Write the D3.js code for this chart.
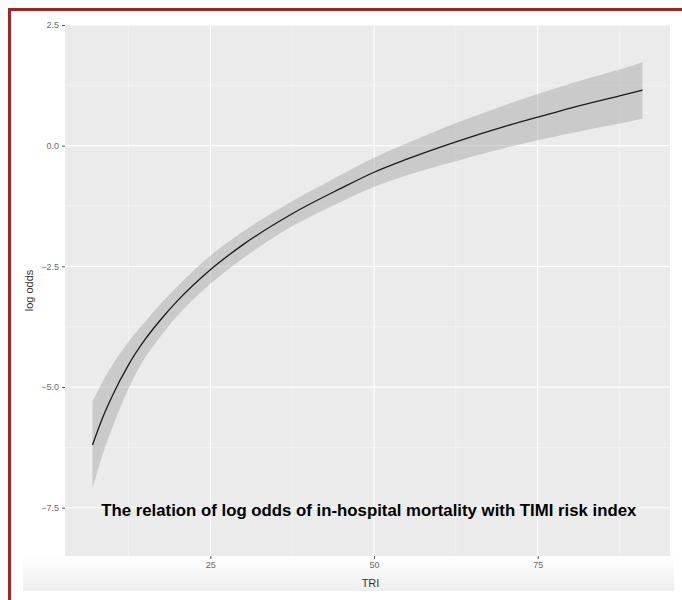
<!DOCTYPE html>
<html>
<head>
<meta charset="utf-8">
<script src="https://cdn.jsdelivr.net/npm/d3@7"></script>
<style>
  body { margin: 0; background: #fff; }
  svg { display: block; font-family: "Liberation Sans", Arial, sans-serif; }
</style>
</head>
<body>
<div id="chart"></div>
<script>
// TRI values (x)
const tri = [7, 8.5, 10, 12.5, 15, 17.5, 20, 25, 30, 37.5, 45, 50, 55, 62.5, 70, 75, 80, 87.5, 91];
// fitted log odds
const logOdds = [-6.20, -5.65, -5.19, -4.54, -4.02, -3.59, -3.21, -2.57, -2.05, -1.41, -0.88, -0.55, -0.28, 0.08, 0.40, 0.59, 0.78, 1.03, 1.15];
// confidence band
const lower = [-7.10, -6.42, -5.85, -5.03, -4.40, -3.93, -3.52, -2.86, -2.33, -1.67, -1.16, -0.85, -0.61, -0.32, -0.05, 0.11, 0.26, 0.46, 0.56];
const upper = [-5.30, -4.90, -4.55, -4.06, -3.65, -3.26, -2.91, -2.28, -1.78, -1.15, -0.60, -0.25, 0.05, 0.47, 0.84, 1.07, 1.29, 1.58, 1.73];

const xTicks = [25, 50, 75];
const xMinor = [12.5, 37.5, 62.5, 87.5];
const yTicks = [-7.5, -5.0, -2.5, 0.0, 2.5];
const yMinor = [-6.25, -3.75, -1.25, 1.25];

const titleText = "The relation of log odds of in-hospital mortality with TIMI risk index";
const titlePos = { x: 49.2, y: -7.55 };

const W = 682, H = 600;
const panel = { left: 65, right: 670, top: 25, bottom: 556 };

const svg = d3.select("#chart").append("svg")
  .attr("width", W).attr("height", H);

const defs = svg.append("defs");
const grad = defs.append("linearGradient").attr("id", "strip")
  .attr("x1", 0).attr("y1", 0).attr("x2", 0).attr("y2", 1);
grad.append("stop").attr("offset", "0%").attr("stop-color", "#fefefe");
grad.append("stop").attr("offset", "100%").attr("stop-color", "#efefef");

// red frame (left + top visible)
svg.append("line").attr("x1", 9.5).attr("y1", 9.5).attr("x2", 682).attr("y2", 9.5)
  .attr("stroke", "#a3232a").attr("stroke-width", 3);
svg.append("line").attr("x1", 9.5).attr("y1", 8).attr("x2", 9.5).attr("y2", 600)
  .attr("stroke", "#a3232a").attr("stroke-width", 3);

// faint strip below the panel
svg.append("rect").attr("x", 23).attr("y", panel.bottom).attr("width", 651).attr("height", 35)
  .attr("fill", "url(#strip)");

// scales (ggplot style 5% expansion on x)
const x = d3.scaleLinear().domain([2.8, 95.2]).range([panel.left, panel.right]);
const y = d3.scaleLinear().domain([-8.5, 2.5]).range([panel.bottom, panel.top]);

// panel background
svg.append("rect")
  .attr("x", panel.left).attr("y", panel.top)
  .attr("width", panel.right - panel.left).attr("height", panel.bottom - panel.top)
  .attr("fill", "#ebebeb");

const grid = svg.append("g").attr("class", "grid");
grid.selectAll("line.vminor").data(xMinor).enter().append("line")
  .attr("x1", d => x(d)).attr("x2", d => x(d))
  .attr("y1", panel.top).attr("y2", panel.bottom)
  .attr("stroke", "#f7f7f7").attr("stroke-width", 0.6);
grid.selectAll("line.hminor").data(yMinor).enter().append("line")
  .attr("y1", d => y(d)).attr("y2", d => y(d))
  .attr("x1", panel.left).attr("x2", panel.right)
  .attr("stroke", "#f7f7f7").attr("stroke-width", 0.6);
grid.selectAll("line.vmajor").data(xTicks).enter().append("line")
  .attr("x1", d => x(d)).attr("x2", d => x(d))
  .attr("y1", panel.top).attr("y2", panel.bottom)
  .attr("stroke", "#ffffff").attr("stroke-width", 1.2);
grid.selectAll("line.hmajor").data(yTicks).enter().append("line")
  .attr("y1", d => y(d)).attr("y2", d => y(d))
  .attr("x1", panel.left).attr("x2", panel.right)
  .attr("stroke", "#ffffff").attr("stroke-width", 1.2);

// confidence ribbon
const bandData = tri.map((t, i) => ({ t, lo: lower[i], hi: upper[i], fit: logOdds[i] }));
const area = d3.area()
  .curve(d3.curveMonotoneX)
  .x(d => x(d.t)).y0(d => y(d.lo)).y1(d => y(d.hi));
svg.append("path").datum(bandData)
  .attr("d", area)
  .attr("fill", "#999999").attr("fill-opacity", 0.4);

// fitted line
const line = d3.line().curve(d3.curveMonotoneX)
  .x(d => x(d.t)).y(d => y(d.fit));
svg.append("path").datum(bandData)
  .attr("d", line)
  .attr("fill", "none").attr("stroke", "#1a1a1a").attr("stroke-width", 1.3);

// axes
const xAxis = d3.axisBottom(x).tickValues(xTicks).tickSize(3).tickPadding(3)
  .tickFormat(d3.format("d"));
const gx = svg.append("g").attr("transform", `translate(0,${panel.bottom})`).call(xAxis);
gx.select(".domain").remove();
gx.selectAll(".tick line").attr("stroke", "#555");
gx.selectAll("text").attr("fill", "#6b6b6b").attr("font-size", 9)
  .attr("font-family", "Liberation Sans, Arial, sans-serif");

const yAxis = d3.axisLeft(y).tickValues(yTicks).tickSize(3).tickPadding(3)
  .tickFormat(d3.format(".1f"));
const gy = svg.append("g").attr("transform", `translate(${panel.left},0)`).call(yAxis);
gy.select(".domain").remove();
gy.selectAll(".tick line").attr("stroke", "#555");
gy.selectAll("text").attr("fill", "#6b6b6b").attr("font-size", 9)
  .attr("font-family", "Liberation Sans, Arial, sans-serif");

// axis titles
svg.append("text")
  .attr("x", (panel.left + panel.right) / 2 + 3).attr("y", 587)
  .attr("text-anchor", "middle").attr("font-size", 11).attr("fill", "#333")
  .text("TRI");
svg.append("text")
  .attr("transform", `translate(33,${(panel.top + panel.bottom) / 2}) rotate(-90)`)
  .attr("text-anchor", "middle").attr("font-size", 11).attr("fill", "#333")
  .text("log odds");

// annotation inside panel
svg.append("text")
  .attr("x", x(titlePos.x)).attr("y", y(titlePos.y))
  .attr("dy", "0.35em")
  .attr("text-anchor", "middle")
  .attr("font-size", 16.8).attr("font-weight", "bold").attr("fill", "#000")
  .text(titleText);
</script>
</body>
</html>
